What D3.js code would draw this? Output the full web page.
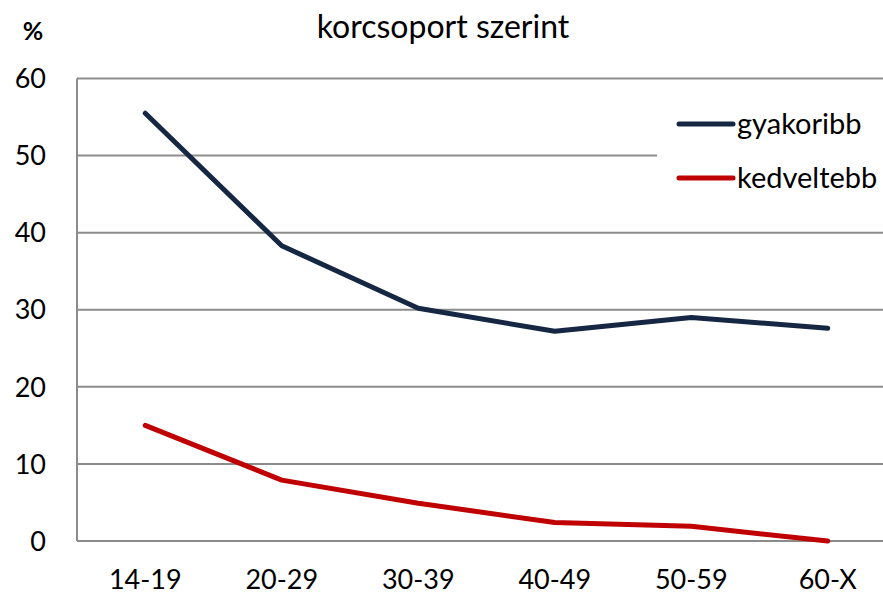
<!DOCTYPE html>
<html>
<head>
<meta charset="utf-8">
<script src="https://cdn.jsdelivr.net/npm/d3@7"></script>
<style>
  body { margin: 0; background: #fff; }
  svg { display: block; font-family: Lato, "Open Sans", sans-serif; }
</style>
</head>
<body>
<div class="chart"></div>
<script>
// age groups and the two series (%)
const groups = ["14-19", "20-29", "30-39", "40-49", "50-59", "60-X"];
const gyakoribb = [55.5, 38.3, 30.2, 27.2, 29.0, 27.6];
const kedveltebb = [15.0, 7.9, 4.9, 2.4, 1.9, 0.0];
const yTicks = [0, 10, 20, 30, 40, 50, 60];

const seriesNames = ["gyakoribb", "kedveltebb"];
const colors = ["#152743", "#c00000"];

const width = 883, height = 594;
const margin = { top: 78.5, right: -13, bottom: 53, left: 77 };

const svg = d3.select(".chart")
  .append("svg")
  .attr("width", width)
  .attr("height", height);

const x = d3.scaleBand()
  .domain(groups)
  .range([margin.left, width - margin.right]);

const y = d3.scaleLinear()
  .domain([0, 60])
  .range([height - margin.bottom, margin.top]);

// gridlines
svg.append("g")
  .selectAll("line")
  .data(yTicks)
  .join("line")
  .attr("x1", margin.left)
  .attr("x2", width - margin.right)
  .attr("y1", d => y(d))
  .attr("y2", d => y(d))
  .attr("stroke", "#8c8c8c")
  .attr("stroke-width", 2);

// left axis line
svg.append("line")
  .attr("x1", margin.left).attr("x2", margin.left)
  .attr("y1", y(0)).attr("y2", y(60))
  .attr("stroke", "#8c8c8c")
  .attr("stroke-width", 2);

// y tick labels
svg.append("g")
  .selectAll("text")
  .data(yTicks)
  .join("text")
  .attr("x", 46)
  .attr("y", d => y(d))
  .attr("dy", "0.36em")
  .attr("text-anchor", "end")
  .attr("font-size", 27)
  .attr("fill", "#000")
  .text(d => d);

// x labels
svg.append("g")
  .selectAll("text")
  .data(groups)
  .join("text")
  .attr("x", d => x(d) + x.bandwidth() / 2)
  .attr("y", 589)
  .attr("text-anchor", "middle")
  .attr("font-size", 27)
  .attr("fill", "#000")
  .text(d => d);

// title and unit
svg.append("text")
  .attr("x", 443)
  .attr("y", 38)
  .attr("text-anchor", "middle")
  .attr("font-size", 32)
  .text("korcsoport szerint");

svg.append("text")
  .attr("x", 33)
  .attr("y", 40)
  .attr("text-anchor", "middle")
  .attr("font-size", 25)
  .attr("font-weight", "bold")
  .text("%");

// legend background hides the gridline behind it
svg.append("rect")
  .attr("x", 657).attr("y", 95)
  .attr("width", 240).attr("height", 110)
  .attr("fill", "#fff");

const line = d3.line()
  .x((d, i) => x(groups[i]) + x.bandwidth() / 2)
  .y(d => y(d));

[gyakoribb, kedveltebb].forEach((vals, k) => {
  svg.append("path")
    .datum(vals)
    .attr("d", line)
    .attr("fill", "none")
    .attr("stroke", colors[k])
    .attr("stroke-width", 5)
    .attr("stroke-linejoin", "round")
    .attr("stroke-linecap", "round");
});

// legend
const legend = svg.append("g")
  .selectAll("g")
  .data(seriesNames)
  .join("g")
  .attr("transform", (d, i) => `translate(679, ${124 + i * 54})`);

legend.append("line")
  .attr("x1", 0).attr("x2", 54)
  .attr("stroke", (d, i) => colors[i])
  .attr("stroke-width", 5)
  .attr("stroke-linecap", "round");

legend.append("text")
  .attr("x", 58)
  .attr("dy", "0.35em")
  .attr("font-size", 29)
  .text(d => d);
</script>
</body>
</html>
